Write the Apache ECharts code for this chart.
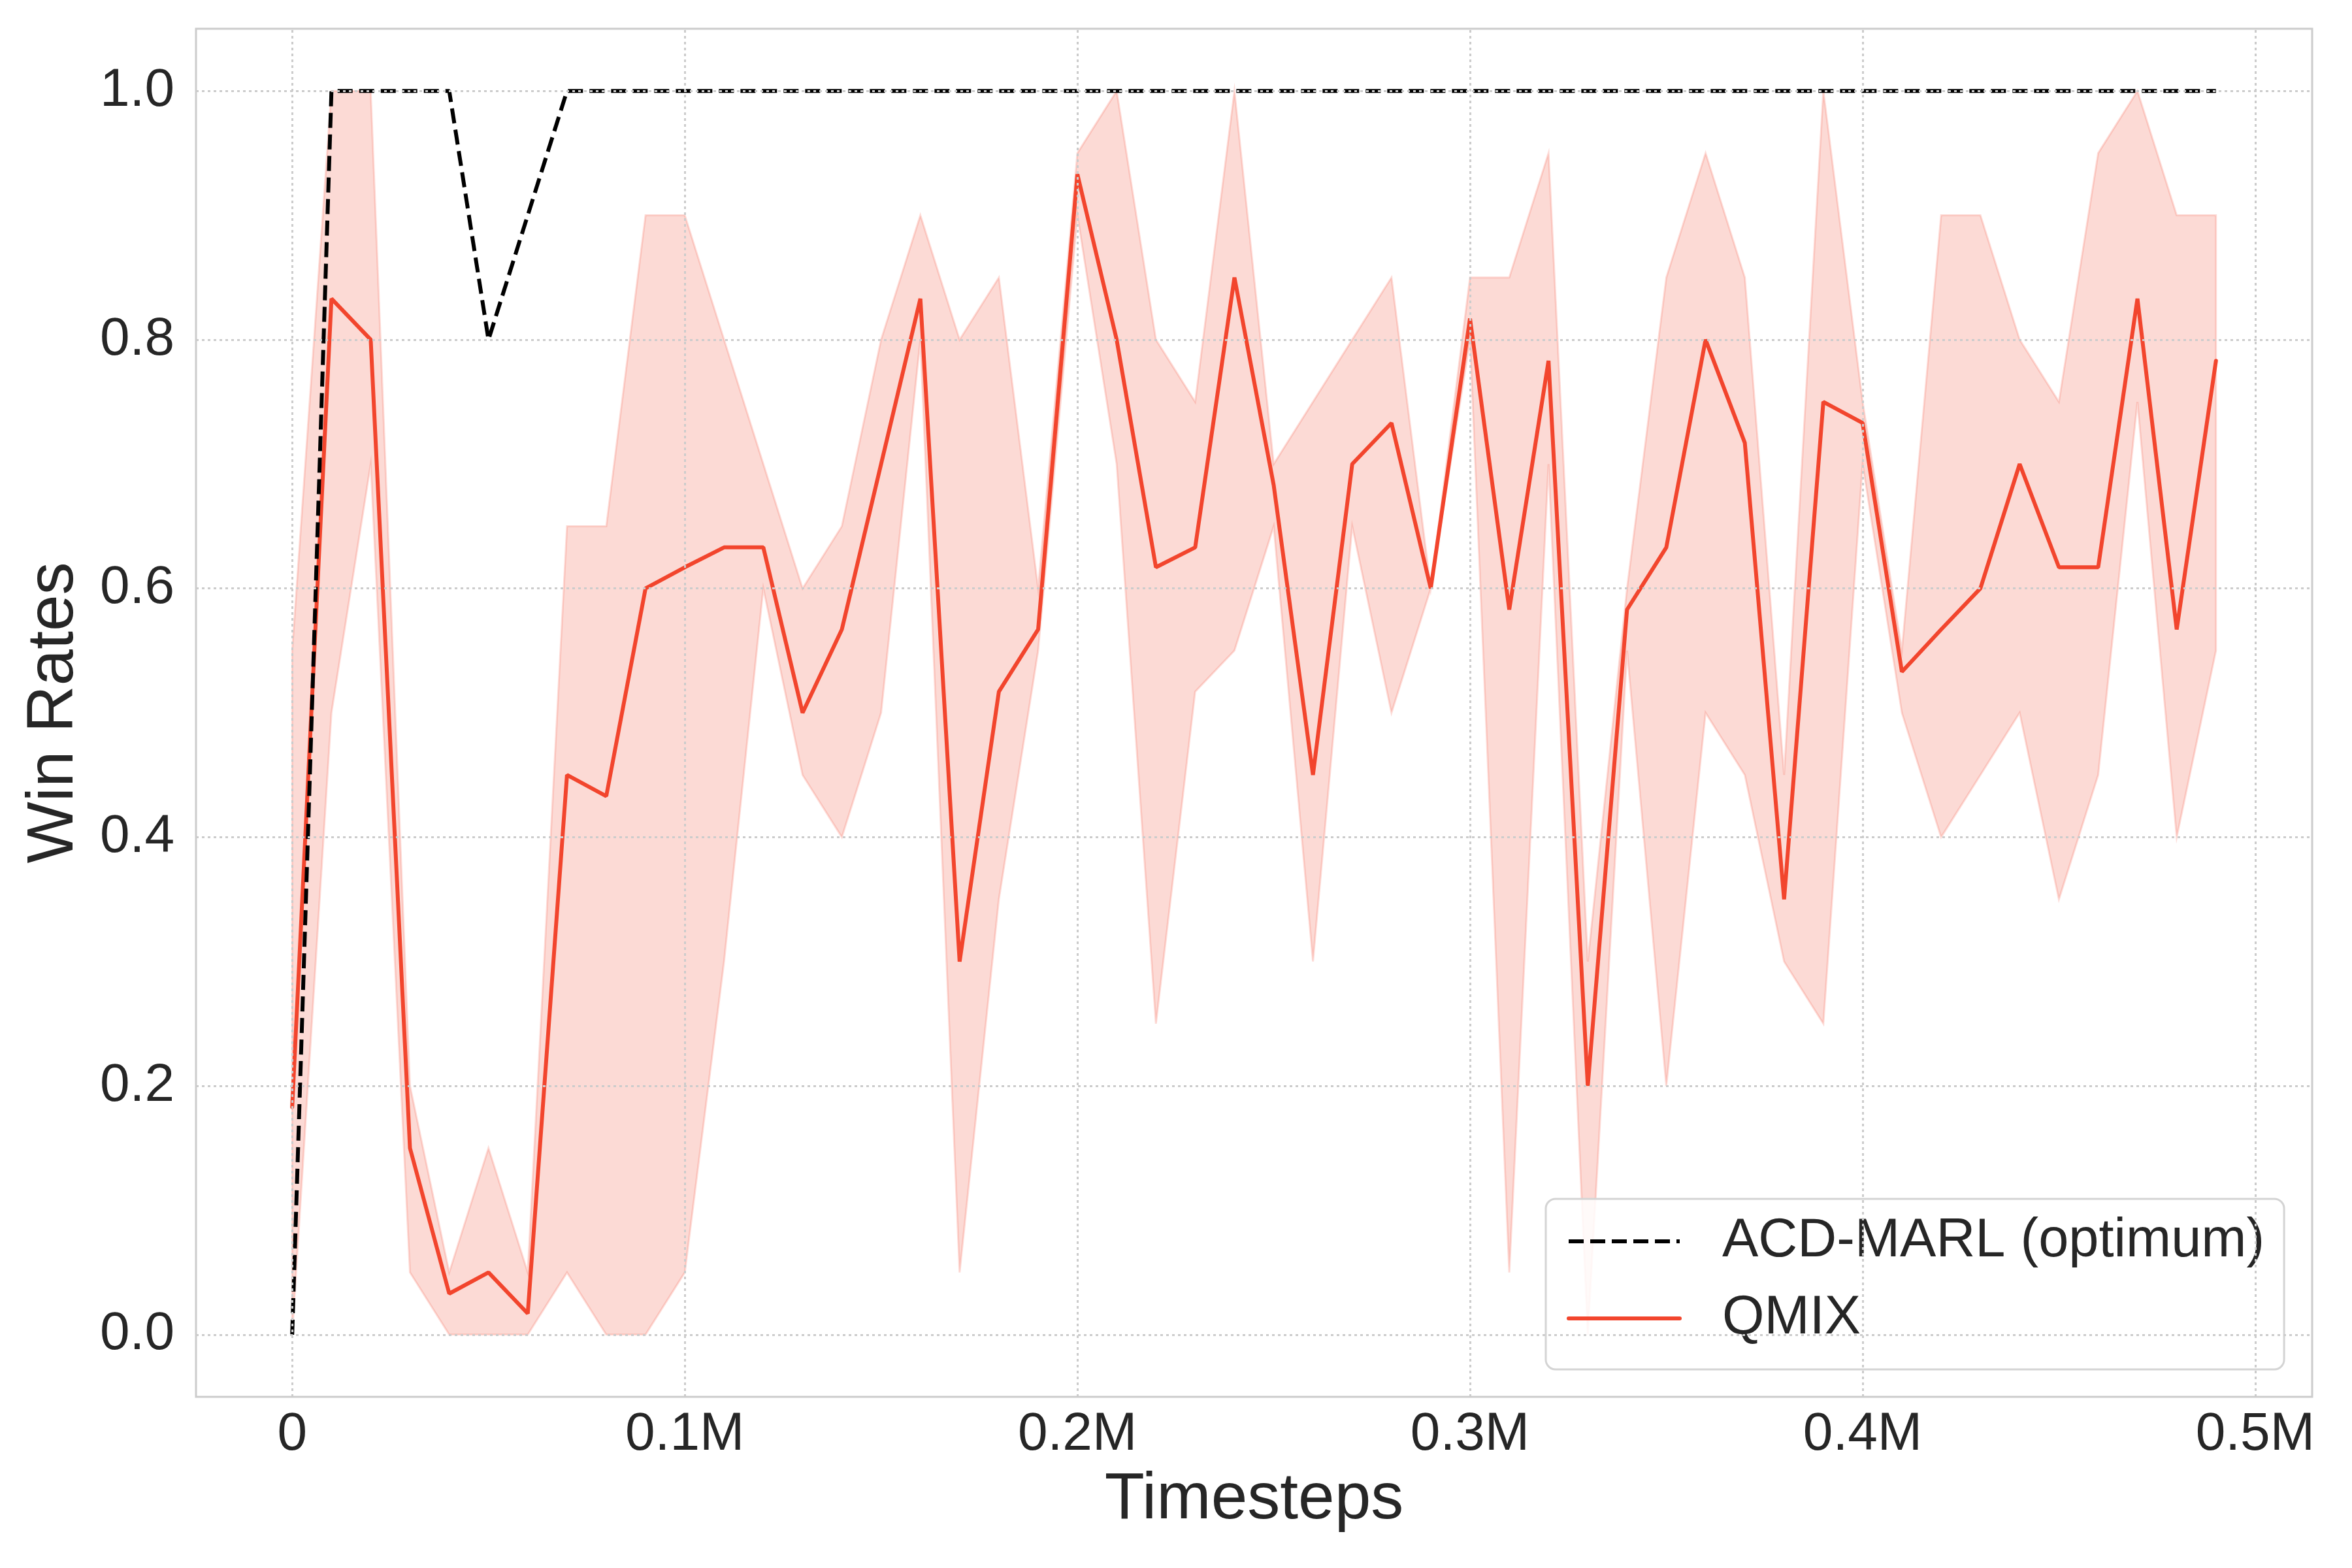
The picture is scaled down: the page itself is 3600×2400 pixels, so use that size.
<!DOCTYPE html>
<html>
<head>
<meta charset="utf-8">
<script src="https://cdn.jsdelivr.net/npm/echarts@6.0.0/dist/echarts.min.js"></script>
<style>
  html, body { margin: 0; padding: 0; background: #ffffff; }
  #chart { width: 3600px; height: 2400px; }
</style>
</head>
<body>
<div id="chart"></div>
<script>
// ---- data (timesteps in millions) ----
var timesteps = [0.00, 0.01, 0.02, 0.03, 0.04, 0.05, 0.06, 0.07, 0.08, 0.09,
                 0.10, 0.11, 0.12, 0.13, 0.14, 0.15, 0.16, 0.17, 0.18, 0.19,
                 0.20, 0.21, 0.22, 0.23, 0.24, 0.25, 0.26, 0.27, 0.28, 0.29,
                 0.30, 0.31, 0.32, 0.33, 0.34, 0.35, 0.36, 0.37, 0.38, 0.39,
                 0.40, 0.41, 0.42, 0.43, 0.44, 0.45, 0.46, 0.47, 0.48, 0.49];

var acdMarl = [0, 1, 1, 1, 1, 0.8, 0.9, 1, 1, 1,
               1, 1, 1, 1, 1, 1, 1, 1, 1, 1,
               1, 1, 1, 1, 1, 1, 1, 1, 1, 1,
               1, 1, 1, 1, 1, 1, 1, 1, 1, 1,
               1, 1, 1, 1, 1, 1, 1, 1, 1, 1];

var qmixMean = [0.183, 0.833, 0.800, 0.150, 0.033, 0.050, 0.017, 0.450, 0.433, 0.600,
                0.617, 0.633, 0.633, 0.500, 0.567, 0.700, 0.833, 0.300, 0.517, 0.567,
                0.933, 0.800, 0.617, 0.633, 0.850, 0.683, 0.450, 0.700, 0.733, 0.600,
                0.817, 0.583, 0.783, 0.200, 0.583, 0.633, 0.800, 0.717, 0.350, 0.750,
                0.733, 0.533, 0.567, 0.600, 0.700, 0.617, 0.617, 0.833, 0.567, 0.783];

var qmixUpper = [0.55, 1.00, 1.00, 0.20, 0.05, 0.15, 0.05, 0.65, 0.65, 0.90,
                 0.90, 0.80, 0.70, 0.60, 0.65, 0.80, 0.90, 0.80, 0.85, 0.60,
                 0.95, 1.00, 0.80, 0.75, 1.00, 0.70, 0.75, 0.80, 0.85, 0.60,
                 0.85, 0.85, 0.95, 0.30, 0.60, 0.85, 0.95, 0.85, 0.45, 1.00,
                 0.75, 0.55, 0.90, 0.90, 0.80, 0.75, 0.95, 1.00, 0.90, 0.90];

var qmixLower = [0.00, 0.50, 0.70, 0.05, 0.00, 0.00, 0.00, 0.05, 0.00, 0.00,
                 0.05, 0.30, 0.60, 0.45, 0.40, 0.50, 0.80, 0.05, 0.35, 0.55,
                 0.90, 0.70, 0.25, 0.517, 0.55, 0.65, 0.30, 0.65, 0.50, 0.60,
                 0.80, 0.05, 0.70, 0.00, 0.55, 0.20, 0.50, 0.45, 0.30, 0.25,
                 0.70, 0.50, 0.40, 0.45, 0.50, 0.35, 0.45, 0.75, 0.40, 0.55];

var xTickValues = [0, 0.1, 0.2, 0.3, 0.4, 0.5];
var xTickLabels = ['0', '0.1M', '0.2M', '0.3M', '0.4M', '0.5M'];
var yTickValues = [0, 0.2, 0.4, 0.6, 0.8, 1.0];
var yTickLabels = ['0.0', '0.2', '0.4', '0.6', '0.8', '1.0'];

// ---- styling ----
var FONT = '"Liberation Sans", Arial, Helvetica, sans-serif';
var TEXT = '#262626';
var RED = '#f2452d';
var BAND = 'rgba(242,69,45,0.2)';
var GRID = '#cccccc';

function pairs(xs, ys) {
  var out = [];
  for (var i = 0; i < xs.length; i++) out.push([xs[i], ys[i]]);
  return out;
}
function lookup(values, labels, v) {
  for (var i = 0; i < values.length; i++) {
    if (Math.abs(values[i] - v) < 1e-9) return labels[i];
  }
  return '';
}

var chart = echarts.init(document.getElementById('chart'), null, { renderer: 'canvas', width: 3600, height: 2400 });

var option = {
  animation: false,
  backgroundColor: '#ffffff',
  textStyle: { fontFamily: FONT },
  grid: {
    left: 300, right: 61, top: 44, bottom: 262,
    show: true, borderColor: '#cccccc', borderWidth: 3, backgroundColor: '#ffffff',
    containLabel: false
  },
  xAxis: {
    type: 'value', min: -0.0245, max: 0.5145,
    axisLine: { show: false }, axisTick: { show: false }, splitLine: { show: false },
    axisLabel: {
      customValues: xTickValues,
      formatter: function (v) { return lookup(xTickValues, xTickLabels, v); },
      fontSize: 82, color: TEXT, fontFamily: FONT, margin: 17
    },
    name: 'Timesteps', nameLocation: 'middle', nameGap: 108,
    nameTextStyle: { fontSize: 100, color: TEXT, fontFamily: FONT }
  },
  yAxis: {
    type: 'value', min: -0.05, max: 1.05,
    axisLine: { show: false }, axisTick: { show: false }, splitLine: { show: false },
    axisLabel: {
      customValues: yTickValues,
      formatter: function (v) { return lookup(yTickValues, yTickLabels, v); },
      fontSize: 82, color: TEXT, fontFamily: FONT, margin: 33
    },
    name: 'Win Rates', nameLocation: 'middle', nameGap: 167, nameRotate: 90,
    nameTextStyle: { fontSize: 100, color: TEXT, fontFamily: FONT }
  },
  legend: {
    orient: 'vertical', left: 2366, top: 1835,
    padding: [23, 30, 36, 32],
    itemWidth: 170, itemHeight: 84, itemGap: 34,
    itemStyle: { opacity: 0 },
    lineStyle: { width: 6 },
    backgroundColor: 'rgba(255,255,255,0.85)',
    borderColor: '#d4d4d4', borderWidth: 3, borderRadius: 15,
    textStyle: { fontSize: 83, color: TEXT, fontFamily: FONT, padding: [0, 0, 0, 60], lineHeight: 84 },
    data: [
      { name: 'ACD-MARL (optimum)', lineStyle: { width: 6, color: '#000000', type: [23, 10] } },
      { name: 'QMIX', lineStyle: { width: 6, color: RED, type: 'solid', cap: 'round' } }
    ]
  },
  series: [
    {
      name: 'gridlines', type: 'line', data: [[0, 0]], symbol: 'none',
      lineStyle: { opacity: 0 }, silent: true, z: 1,
      markLine: {
        silent: true, symbol: ['none', 'none'], label: { show: false },
        lineStyle: { color: GRID, width: 3, type: [4, 5] },
        data: xTickValues.map(function (v) { return { xAxis: v }; })
          .concat(yTickValues.map(function (v) { return { yAxis: v }; }))
      }
    },
    {
      name: 'QMIX band', type: 'custom', z: 2, silent: true,
      data: [[0, 0]],
      renderItem: function (params, api) {
        if (params.dataIndex !== 0) return null;
        var pts = [];
        for (var i = 0; i < timesteps.length; i++) pts.push(api.coord([timesteps[i], qmixUpper[i]]));
        for (var j = timesteps.length - 1; j >= 0; j--) pts.push(api.coord([timesteps[j], qmixLower[j]]));
        return { type: 'polygon', shape: { points: pts }, style: { fill: BAND, stroke: 'rgba(242,69,45,0.18)', lineWidth: 3 } };
      }
    },
    {
      name: 'QMIX', type: 'line', z: 3,
      data: pairs(timesteps, qmixMean), symbol: 'none',
      lineStyle: { color: RED, width: 6, cap: 'round' },
      itemStyle: { color: RED }
    },
    {
      name: 'ACD-MARL (optimum)', type: 'line', z: 4,
      data: pairs(timesteps, acdMarl), symbol: 'none',
      lineStyle: { color: '#000000', width: 6, type: [23, 10] },
      itemStyle: { color: '#000000' }
    }
  ]
};
chart.setOption(option);
</script>
</body>
</html>
